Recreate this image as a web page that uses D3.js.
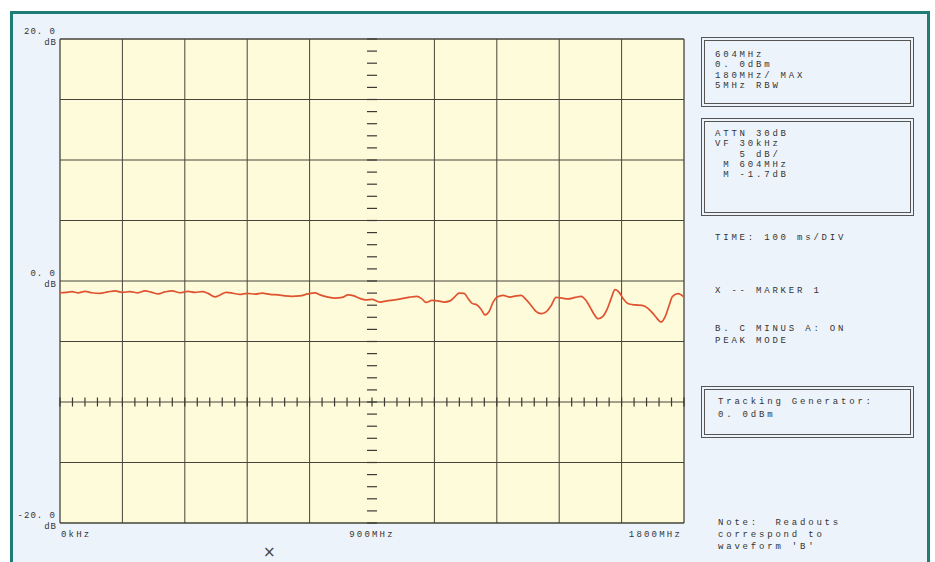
<!DOCTYPE html>
<html>
<head>
<meta charset="utf-8">
<script src="https://cdn.jsdelivr.net/npm/d3@7"></script>
<style>
  html, body { margin: 0; padding: 0; background: #ffffff; }
  svg { display: block; }
  .t { font-family: "Liberation Mono", "DejaVu Sans Mono", monospace; font-size: 9px; fill: #333333; letter-spacing: 2.8px; }
</style>
</head>
<body>
<svg id="chart" width="935" height="562"></svg>
<script>
// ---------------- data ----------------
const freqMHz = [0, 17, 35, 52, 72, 92, 115, 138, 159, 179, 202, 225, 245, 265, 283, 303, 323, 346, 369, 389,
  410, 427, 447, 462, 479, 499, 519, 540, 563, 583, 606, 629, 649, 669, 692, 715, 736, 750, 770, 793,
  814, 831, 848, 865, 883, 900, 923, 943, 966, 990, 1010, 1030, 1044, 1056, 1073, 1090, 1108, 1125, 1140, 1151,
  1166, 1177, 1189, 1203, 1215, 1226, 1238, 1249, 1261, 1278, 1298, 1316, 1330, 1344, 1359, 1373, 1388, 1402, 1417, 1431,
  1445, 1465, 1486, 1503, 1518, 1529, 1541, 1552, 1566, 1578, 1590, 1601, 1613, 1624, 1639, 1659, 1679, 1696, 1711, 1722,
  1734, 1746, 1757, 1767, 1783, 1800];
const levelDb = [-0.97, -0.94, -0.88, -0.98, -0.85, -0.97, -1.02, -0.90, -0.81, -0.94, -0.88, -0.98, -0.81, -0.94, -1.07, -0.90, -0.81, -0.97, -0.86, -0.94,
  -0.88, -1.02, -1.31, -1.15, -0.94, -1.01, -1.11, -1.02, -1.09, -1.01, -1.11, -1.15, -1.23, -1.27, -1.23, -1.07, -0.98, -1.15, -1.31, -1.42,
  -1.36, -1.15, -1.23, -1.44, -1.56, -1.52, -1.74, -1.64, -1.56, -1.44, -1.33, -1.27, -1.48, -1.77, -1.60, -1.64, -1.74, -1.64, -1.27, -1.00,
  -1.02, -1.44, -1.85, -1.98, -2.35, -2.80, -2.51, -1.77, -1.33, -1.19, -1.33, -1.23, -1.19, -1.52, -2.02, -2.51, -2.70, -2.55, -2.02, -1.36,
  -1.40, -1.48, -1.36, -1.27, -1.64, -2.16, -2.76, -3.12, -2.93, -2.35, -1.44, -0.72, -0.94, -1.44, -1.88, -1.98, -2.02, -2.26, -2.70, -3.09,
  -3.40, -2.93, -2.02, -1.27, -1.05, -1.33];

const xGridMHz = [0, 180, 360, 540, 720, 1080, 1260, 1440, 1620, 1800];
const yGridDb = [-20, -15, -10, -5, 0, 5, 10, 15, 20];
const yLabelDb = [20, 0, -20];
const yLabelText = ["20. 0", "0. 0", "-20. 0"];
const xLabelMHz = [0, 900, 1800];
const xLabelText = ["0kHz", "900MHz", "1800MHz"];
const markerMHz = 604;

const box1Lines = ["604MHz", "0. 0dBm", "180MHz/ MAX", "5MHz RBW"];
const box2Lines = ["ATTN 30dB", "VF 30kHz", "   5 dB/", " M 604MHz", " M -1.7dB"];
const infoLines = ["TIME: 100 ms/DIV", "X -- MARKER 1", "B. C MINUS A: ON", "PEAK MODE"];
const box3Lines = ["Tracking Generator:", "0. 0dBm"];
const noteLines = ["Note:  Readouts", "correspond to", "waveform 'B'"];

// ---------------- layout ----------------
const svg = d3.select("#chart");
const L = 60, R = 684, T = 39, B = 523;
const x = d3.scaleLinear().domain([0, 1800]).range([L, R]);
const y = d3.scaleLinear().domain([-20, 20]).range([B, T]);

// page background + teal frame
svg.append("rect").attr("x", 0).attr("y", 0).attr("width", 935).attr("height", 562).attr("fill", "#ffffff");
svg.append("rect").attr("x", 11.5).attr("y", 12.5).attr("width", 917).attr("height", 600)
  .attr("fill", "#edf3fa").attr("stroke", "#1f7d76").attr("stroke-width", 3);

// plot background
svg.append("rect").attr("x", L).attr("y", T).attr("width", R - L).attr("height", B - T).attr("fill", "#fefbdb");

const gridColor = "#45443a";
svg.append("g").selectAll("line").data(yGridDb).join("line")
  .attr("x1", L).attr("x2", R)
  .attr("y1", d => y(d)).attr("y2", d => y(d))
  .attr("stroke", gridColor).attr("stroke-width", d => (d === 20 || d === -20) ? 1.3 : 1);
svg.append("g").selectAll("line").data(xGridMHz).join("line")
  .attr("x1", d => x(d)).attr("x2", d => x(d))
  .attr("y1", T).attr("y2", B)
  .attr("stroke", gridColor).attr("stroke-width", d => (d === 0 || d === 1800) ? 1.3 : 1);

// center cross minor ticks
const yMinor = d3.range(-20, 20.01, 1);
svg.append("g").selectAll("line").data(yMinor).join("line")
  .attr("x1", x(900) - 5).attr("x2", x(900) + 5)
  .attr("y1", d => y(d)).attr("y2", d => y(d))
  .attr("stroke", "#3a3a32").attr("stroke-width", 1.2);
const xMinor = d3.range(0, 1800.01, 36);
svg.append("g").selectAll("line").data(xMinor).join("line")
  .attr("x1", d => x(d)).attr("x2", d => x(d))
  .attr("y1", y(-10) - 4.5).attr("y2", y(-10) + 4.5)
  .attr("stroke", "#3a3a32").attr("stroke-width", 1.2);

// trace
const line = d3.line().x((d, i) => x(freqMHz[i])).y(d => y(d)).curve(d3.curveMonotoneX);
svg.append("path").datum(levelDb).attr("d", line)
  .attr("fill", "none").attr("stroke", "#df5330").attr("stroke-width", 1.7).attr("stroke-linejoin", "round");

// y labels
const yl = svg.append("g");
yLabelDb.forEach((v, i) => {
  yl.append("text").attr("class", "t").attr("x", 56).attr("y", y(v) - 5)
    .attr("text-anchor", "end").style("letter-spacing", "1px").text(yLabelText[i]);
  yl.append("text").attr("class", "t").attr("x", 57).attr("y", y(v) + 6)
    .attr("text-anchor", "end").style("letter-spacing", "1px").text("dB");
});
// x labels
const anchors = ["start", "middle", "end"];
xLabelMHz.forEach((v, i) => {
  svg.append("text").attr("class", "t").attr("x", x(v) + (i === 2 ? -2 : (i === 0 ? 1 : 0))).attr("y", 537)
    .attr("text-anchor", anchors[i]).style("letter-spacing", "2.2px").text(xLabelText[i]);
});
// marker symbol
svg.append("text").attr("x", x(markerMHz)).attr("y", 557).attr("text-anchor", "middle")
  .attr("font-family", "DejaVu Sans, sans-serif").attr("font-size", 15).attr("fill", "#444").text("\u00d7");

// right panel boxes
function dblBox(x0, y0, w, h) {
  svg.append("rect").attr("x", x0 + 0.5).attr("y", y0 + 0.5).attr("width", w).attr("height", h)
    .attr("fill", "none").attr("stroke", "#555").attr("stroke-width", 1);
  svg.append("rect").attr("x", x0 + 3.5).attr("y", y0 + 3.5).attr("width", w - 6).attr("height", h - 6)
    .attr("fill", "none").attr("stroke", "#555").attr("stroke-width", 1);
}
function lines(arr, x0, y0, dy) {
  arr.forEach((s, i) => {
    svg.append("text").attr("class", "t").attr("x", x0).attr("y", y0 + i * dy)
      .attr("xml:space", "preserve").style("white-space", "pre").text(s);
  });
}
dblBox(701, 37, 212, 69);
lines(box1Lines, 715, 57, 10.3);
dblBox(701, 118, 212, 97);
lines(box2Lines, 715, 136, 10.3);
lines(infoLines.slice(0, 1), 715, 240, 10);
lines(infoLines.slice(1, 2), 715, 293, 10);
lines(infoLines.slice(2), 715, 331, 12);
dblBox(701, 386, 212, 51);
lines(box3Lines, 718, 404, 13);
lines(noteLines, 718, 525, 12);
</script>
</body>
</html>
